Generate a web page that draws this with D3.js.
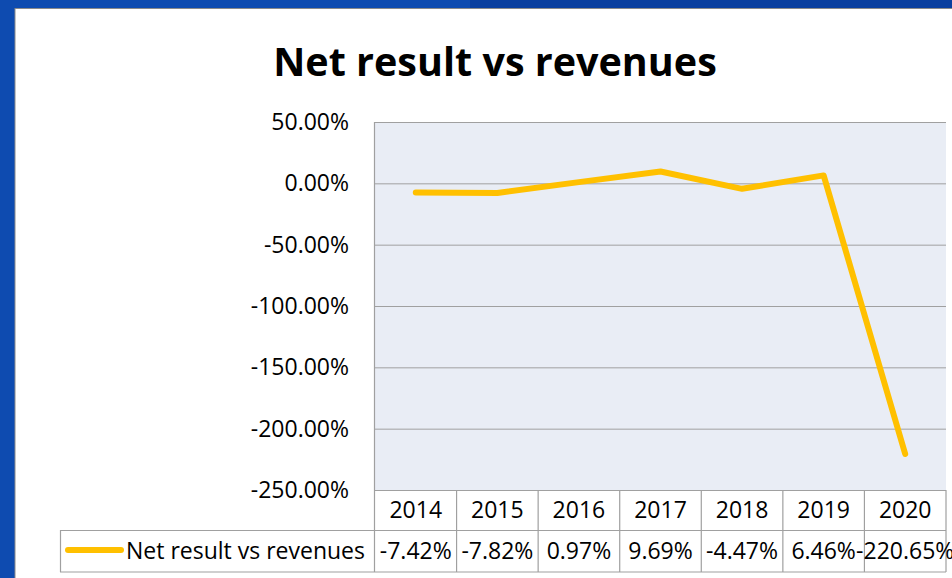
<!DOCTYPE html>
<html>
<head>
<meta charset="utf-8">
<script src="https://cdn.jsdelivr.net/npm/d3@7"></script>
<style>
  body { margin: 0; overflow: hidden; }
  svg { display: block; font-family: "Open Sans", "Noto Sans", sans-serif; }
</style>
</head>
<body>
<svg id="chart" width="952" height="578"></svg>
<script>
// Data
const years = ["2014", "2015", "2016", "2017", "2018", "2019", "2020"];
const netResult = [-7.42, -7.82, 0.97, 9.69, -4.47, 6.46, -220.65];
const yTicks = [50, 0, -50, -100, -150, -200, -250];
const seriesName = "Net result vs revenues";

// percent with a plain hyphen, like the spreadsheet
const pct = d => d3.format(".2f")(d).replace("\u2212", "-") + "%";

const svg = d3.select("#chart");

// blue frame behind the white chart panel
svg.append("rect").attr("width", 952).attr("height", 578).attr("fill", "#0E4BB0");
svg.append("rect").attr("x", 470).attr("width", 482).attr("height", 9).attr("fill", "#0A3F9F");
svg.append("rect").attr("x", 15).attr("y", 8.5).attr("width", 960).attr("height", 600)
    .attr("fill", "#fff").attr("stroke", "#8a8a8a").attr("stroke-width", 1);

// scales
const x = d3.scaleBand().domain(years).range([375, 946]);
const y = d3.scaleLinear().domain([-250, 50]).range([490, 122]);

// title
svg.append("text")
    .attr("x", 495).attr("y", 76)
    .attr("text-anchor", "middle")
    .style("font-size", "39.5px").style("font-weight", "bold")
    .text(seriesName);

// plot area
svg.append("rect")
    .attr("x", 375).attr("y", y(50))
    .attr("width", 571).attr("height", y(-250) - y(50))
    .attr("fill", "#E9EDF5");

// gridlines + tick labels
svg.append("g")
    .selectAll("line")
    .data(yTicks)
    .join("line")
    .attr("x1", 375).attr("x2", 946)
    .attr("y1", d => y(d) + 0.5).attr("y2", d => y(d) + 0.5)
    .attr("stroke", "#A0A0A0").attr("stroke-width", 1);

svg.append("g")
    .selectAll("text")
    .data(yTicks)
    .join("text")
    .attr("x", 349).attr("y", d => y(d) + 8)
    .attr("text-anchor", "end")
    .style("font-size", "23px")
    .text(pct);

// data table
const grid = svg.append("g").attr("stroke", "#A0A0A0").attr("stroke-width", 1.2);
grid.append("line").attr("x1", 60).attr("x2", 946).attr("y1", 530.5).attr("y2", 530.5);
grid.append("line").attr("x1", 60).attr("x2", 946).attr("y1", 572).attr("y2", 572);
grid.append("line").attr("x1", 60.5).attr("x2", 60.5).attr("y1", 530).attr("y2", 572);
grid.append("line").attr("x1", 374.5).attr("x2", 374.5).attr("y1", y(50)).attr("y2", 572);
grid.selectAll(".col")
    .data(years)
    .join("line")
    .attr("class", "col")
    .attr("x1", d => x(d) + x.bandwidth()).attr("x2", d => x(d) + x.bandwidth())
    .attr("y1", 490).attr("y2", 572);

svg.append("g")
    .selectAll("text")
    .data(years)
    .join("text")
    .attr("x", d => x(d) + x.bandwidth() / 2).attr("y", 518)
    .attr("text-anchor", "middle")
    .style("font-size", "23px")
    .text(d => d);

svg.append("g")
    .selectAll("text")
    .data(netResult)
    .join("text")
    .attr("x", (d, i) => x(years[i]) + x.bandwidth() / 2).attr("y", 559)
    .attr("text-anchor", "middle")
    .style("font-size", "23px")
    .text(pct);

// legend key
svg.append("line")
    .attr("x1", 68).attr("x2", 121).attr("y1", 550).attr("y2", 550)
    .attr("stroke", "#FFC000").attr("stroke-width", 6).attr("stroke-linecap", "round");
svg.append("text")
    .attr("x", 126).attr("y", 559)
    .style("font-size", "23px")
    .text(seriesName);

// line
const line = d3.line()
    .x((d, i) => x(years[i]) + x.bandwidth() / 2)
    .y(d => y(d));

svg.append("path")
    .datum(netResult)
    .attr("d", line)
    .attr("fill", "none")
    .attr("stroke", "#FFC000")
    .attr("stroke-width", 6)
    .attr("stroke-linecap", "round")
    .attr("stroke-linejoin", "round");
</script>
</body>
</html>
